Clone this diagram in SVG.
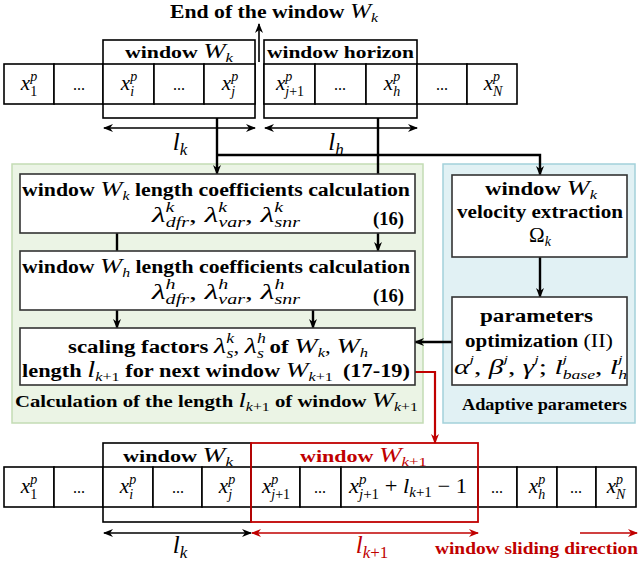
<svg xmlns="http://www.w3.org/2000/svg" width="639" height="565" viewBox="0 0 639 565" font-family="Liberation Serif, serif">
  <style>
    text { font-family: "Liberation Serif", serif; }
    .b { font-weight: bold; fill: #000; }
    .i { font-style: italic; font-weight: normal; }
    .u { font-style: normal; font-weight: normal; }
    .cell { fill: #fff; stroke: #000; stroke-width: 1.6; }
    .frame { fill: none; stroke: #000; stroke-width: 1.6; }
    .rframe { fill: none; stroke: #c00000; stroke-width: 1.8; }
    .box { fill: #fff; stroke: #333; stroke-width: 1.6; }
    .wire { fill: none; stroke: #000; stroke-width: 2.4; }
    .rwire { fill: none; stroke: #c00000; stroke-width: 2.2; }
    .dim { fill: none; stroke: #000; stroke-width: 1.6; }
    .rdim { fill: none; stroke: #c00000; stroke-width: 1.6; }
    .red { fill: #c00000; }
    .mid { text-anchor: middle; }
  </style>
  <defs>
    <marker id="ah" viewBox="0 0 10 8" refX="9" refY="4" markerWidth="10" markerHeight="8" markerUnits="userSpaceOnUse" orient="auto-start-reverse">
      <path d="M0,0 L10,4 L0,8 L3,4 z" fill="#000"/>
    </marker>
    <marker id="ahs" viewBox="0 0 10 8" refX="9" refY="4" markerWidth="12" markerHeight="8" markerUnits="userSpaceOnUse" orient="auto-start-reverse">
      <path d="M0,0 L10,4 L0,8 L3,4 z" fill="#000"/>
    </marker>
    <marker id="rah" viewBox="0 0 10 8" refX="9" refY="4" markerWidth="12" markerHeight="8" markerUnits="userSpaceOnUse" orient="auto-start-reverse">
      <path d="M0,0 L10,4 L0,8 L3,4 z" fill="#c00000"/>
    </marker>
  </defs>

  <!-- panels -->
  <g id="panel-length">
    <rect x="12" y="164" width="411" height="259" fill="#ebf4e5" stroke="#c3dcb4" stroke-width="1.5"/>
    <text class="b" x="15" y="407" font-size="17" textLength="403" lengthAdjust="spacingAndGlyphs">Calculation of the length <tspan class="i" font-size="22">l</tspan><tspan class="i" font-size="13" dy="4">k</tspan><tspan class="u" font-size="13">+1</tspan><tspan dy="-4"> of window </tspan><tspan class="i" font-size="22">W</tspan><tspan class="i" font-size="13" dy="4">k</tspan><tspan class="u" font-size="13">+1</tspan></text>
  </g>
  <g id="panel-adaptive">
    <rect x="443" y="164" width="192" height="259" fill="#e1f1f4" stroke="#a3d1da" stroke-width="1.5"/>
    <text class="b" x="462" y="410" font-size="17" textLength="165" lengthAdjust="spacingAndGlyphs">Adaptive parameters</text>
  </g>

  <!-- connectors -->
  <g id="connectors">
    <line class="dim" x1="259" y1="62" x2="259" y2="24" marker-end="url(#ahs)"/>
    <line class="dim" x1="104" y1="128" x2="255" y2="128" marker-start="url(#ahs)" marker-end="url(#ahs)"/>
    <line class="dim" x1="265" y1="128" x2="417" y2="128" marker-start="url(#ahs)" marker-end="url(#ahs)"/>
    <path class="wire" d="M217,118 V174" marker-end="url(#ah)"/>
    <path class="wire" d="M217,155 H540 V175" marker-end="url(#ah)"/>
    <path class="wire" d="M378,118 V251" marker-end="url(#ah)"/>
    <path class="wire" d="M117,233 V251"/>
    <path class="wire" d="M117,310 V328" marker-end="url(#ah)"/>
    <path class="wire" d="M313,310 V328" marker-end="url(#ah)"/>
    <path class="wire" d="M540,257 V297" marker-end="url(#ah)"/>
    <path class="wire" d="M452,342 H415" marker-end="url(#ah)"/>
    <path class="rwire" d="M415,372 H435 V443" marker-end="url(#rah)"/>
    <line class="dim" x1="104" y1="533" x2="251" y2="533" marker-start="url(#ahs)" marker-end="url(#ahs)"/>
    <line class="rdim" x1="252" y1="533" x2="478" y2="533" marker-start="url(#rah)" marker-end="url(#rah)"/>
    <line class="rdim" x1="580" y1="533" x2="637" y2="533" marker-end="url(#rah)"/>
  </g>

  <!-- top title -->
  <g id="title-end">
    <text class="b" x="170" y="18" font-size="18" textLength="208" lengthAdjust="spacingAndGlyphs">End of the window <tspan class="i" font-size="21">W</tspan><tspan class="i" font-size="13" dy="4">k</tspan></text>
  </g>

  <!-- top sequence: window W_k -->
  <g id="top-window-k">
    <rect class="frame" x="103" y="40" width="152" height="78" fill="#fff"/>
    <text class="b" x="125" y="58" font-size="17" textLength="108" lengthAdjust="spacingAndGlyphs">window <tspan class="i" font-size="21">W</tspan><tspan class="i" font-size="13" dy="4">k</tspan></text>
    <rect class="cell" x="4" y="64" width="50" height="40"/>
    <rect class="cell" x="54" y="64" width="49" height="40"/>
    <rect class="cell" x="103" y="64" width="51" height="40"/>
    <rect class="cell" x="154" y="64" width="50" height="40"/>
    <rect class="cell" x="204" y="64" width="51" height="40"/>
    <text class="i mid" x="29" y="90" font-size="21">x<tspan font-size="14" dy="-9">p</tspan><tspan class="u" font-size="14" dx="-7" dy="15">1</tspan></text>
    <text class="u mid" x="79" y="90" font-size="16">...</text>
    <text class="i mid" x="129" y="90" font-size="21">x<tspan font-size="14" dy="-9">p</tspan><tspan font-size="14" dx="-7" dy="15">i</tspan></text>
    <text class="u mid" x="179" y="90" font-size="16">...</text>
    <text class="i mid" x="230" y="90" font-size="21">x<tspan font-size="14" dy="-9">p</tspan><tspan font-size="14" dx="-7" dy="15">j</tspan></text>
  </g>

  <!-- top sequence: window horizon -->
  <g id="top-window-horizon">
    <rect class="frame" x="264" y="40" width="153" height="78" fill="#fff"/>
    <text class="b" x="267" y="58" font-size="17" textLength="147" lengthAdjust="spacingAndGlyphs">window horizon</text>
    <rect class="cell" x="264" y="64" width="51" height="40"/>
    <rect class="cell" x="315" y="64" width="51" height="40"/>
    <rect class="cell" x="366" y="64" width="51" height="40"/>
    <rect class="cell" x="417" y="64" width="50" height="40"/>
    <rect class="cell" x="467" y="64" width="50" height="40"/>
    <text class="i mid" x="290" y="90" font-size="21">x<tspan font-size="14" dy="-9">p</tspan><tspan font-size="14" dx="-7" dy="15">j</tspan><tspan class="u" font-size="14">+1</tspan></text>
    <text class="u mid" x="340" y="90" font-size="16">...</text>
    <text class="i mid" x="392" y="90" font-size="21">x<tspan font-size="14" dy="-9">p</tspan><tspan font-size="14" dx="-7" dy="15">h</tspan></text>
    <text class="u mid" x="442" y="90" font-size="16">...</text>
    <text class="i mid" x="493" y="90" font-size="21">x<tspan font-size="14" dy="-9">p</tspan><tspan font-size="14" dx="-7" dy="15">N</tspan></text>
  </g>

  <!-- top length labels -->
  <g id="top-lengths">
    <text class="i mid" x="180" y="150" font-size="25">l<tspan font-size="17" dy="5">k</tspan></text>
    <text class="i mid" x="336" y="150" font-size="25">l<tspan font-size="17" dy="5">h</tspan></text>
  </g>

  <!-- window W_k coefficients -->
  <g id="coef-k">
    <rect class="box" x="20" y="174" width="395" height="59"/>
    <text class="b" x="22" y="196" font-size="18" textLength="388" lengthAdjust="spacingAndGlyphs">window <tspan class="i" font-size="22">W</tspan><tspan class="i" font-size="13" dy="4">k</tspan><tspan dy="-4"> length coefficients calculation</tspan></text>
    <text class="i" x="152" y="222" font-size="22" textLength="148" lengthAdjust="spacingAndGlyphs">λ<tspan font-size="14" dy="-10">k</tspan><tspan font-size="14" dx="-6" dy="15">dfr</tspan><tspan class="u" dy="-5">, </tspan>λ<tspan font-size="14" dy="-10">k</tspan><tspan font-size="14" dx="-6" dy="15">var</tspan><tspan class="u" dy="-5">, </tspan>λ<tspan font-size="14" dy="-10">k</tspan><tspan font-size="14" dx="-6" dy="15">snr</tspan></text>
    <text class="b" x="373" y="225" font-size="19" textLength="31" lengthAdjust="spacingAndGlyphs">(16)</text>
  </g>

  <!-- window W_h coefficients -->
  <g id="coef-h">
    <rect class="box" x="20" y="251" width="395" height="59"/>
    <text class="b" x="22" y="273" font-size="18" textLength="388" lengthAdjust="spacingAndGlyphs">window <tspan class="i" font-size="22">W</tspan><tspan class="i" font-size="13" dy="4">h</tspan><tspan dy="-4"> length coefficients calculation</tspan></text>
    <text class="i" x="152" y="299" font-size="22" textLength="148" lengthAdjust="spacingAndGlyphs">λ<tspan font-size="14" dy="-10">h</tspan><tspan font-size="14" dx="-7" dy="15">dfr</tspan><tspan class="u" dy="-5">, </tspan>λ<tspan font-size="14" dy="-10">h</tspan><tspan font-size="14" dx="-7" dy="15">var</tspan><tspan class="u" dy="-5">, </tspan>λ<tspan font-size="14" dy="-10">h</tspan><tspan font-size="14" dx="-7" dy="15">snr</tspan></text>
    <text class="b" x="373" y="302" font-size="19" textLength="31" lengthAdjust="spacingAndGlyphs">(16)</text>
  </g>

  <!-- scaling factors / next length -->
  <g id="scaling">
    <rect class="box" x="20" y="328" width="395" height="57"/>
    <text class="b" x="68" y="353" font-size="18" textLength="300" lengthAdjust="spacingAndGlyphs">scaling factors <tspan class="i" font-size="22">λ</tspan><tspan class="i" font-size="14" dy="-10">k</tspan><tspan class="i" font-size="14" dx="-6" dy="15">s</tspan><tspan class="u" dy="-5">, </tspan><tspan class="i" font-size="22">λ</tspan><tspan class="i" font-size="14" dy="-10">h</tspan><tspan class="i" font-size="14" dx="-7" dy="15">s</tspan><tspan dy="-5"> of </tspan><tspan class="i" font-size="22">W</tspan><tspan class="i" font-size="13" dy="4">k</tspan><tspan class="u" dy="-4">, </tspan><tspan class="i" font-size="22">W</tspan><tspan class="i" font-size="13" dy="4">h</tspan></text>
    <text class="b" x="22" y="377" font-size="18" textLength="388" lengthAdjust="spacingAndGlyphs">length <tspan class="i" font-size="23">l</tspan><tspan class="i" font-size="13" dy="4">k</tspan><tspan class="u" font-size="13">+1</tspan><tspan dy="-4"> for next window </tspan><tspan class="i" font-size="22">W</tspan><tspan class="i" font-size="13" dy="4">k</tspan><tspan class="u" font-size="13">+1</tspan><tspan dy="-4" dx="8">(17-19)</tspan></text>
  </g>

  <!-- velocity extraction -->
  <g id="velocity">
    <rect class="box" x="452" y="175" width="175" height="82"/>
    <text class="b" x="485" y="195" font-size="18" textLength="112" lengthAdjust="spacingAndGlyphs">window <tspan class="i" font-size="22">W</tspan><tspan class="i" font-size="13" dy="4">k</tspan></text>
    <text class="b" x="457" y="218" font-size="18" textLength="166" lengthAdjust="spacingAndGlyphs">velocity extraction</text>
    <text class="u mid" x="540" y="242" font-size="21">Ω<tspan class="i" font-size="14" dy="4">k</tspan></text>
  </g>

  <!-- parameters optimization -->
  <g id="optimization">
    <rect class="box" x="452" y="297" width="175" height="88"/>
    <text class="b" x="480" y="322" font-size="18" textLength="113" lengthAdjust="spacingAndGlyphs">parameters</text>
    <text class="b" x="465" y="347" font-size="18" textLength="148" lengthAdjust="spacingAndGlyphs">optimization <tspan class="u" font-size="19">(II)</tspan></text>
    <text class="i" x="454" y="374" font-size="20" textLength="173" lengthAdjust="spacingAndGlyphs">α<tspan font-size="11" dy="-11">j</tspan><tspan class="u" dy="11">, </tspan>β<tspan font-size="11" dy="-11">j</tspan><tspan class="u" dy="11">, </tspan>γ<tspan font-size="11" dy="-11">j</tspan><tspan class="u" dy="11">;  </tspan>l<tspan font-size="11" dy="-11">j</tspan><tspan font-size="12" dx="-3" dy="16">base</tspan><tspan class="u" dy="-5">, </tspan>l<tspan font-size="11" dy="-11">j</tspan><tspan font-size="12" dx="-3" dy="16">h</tspan></text>
  </g>

  <!-- bottom sequence: window W_k -->
  <g id="bottom-window-k">
    <rect class="frame" x="103" y="443" width="148" height="79" fill="#fff"/>
    <text class="b" x="123" y="462" font-size="17" textLength="110" lengthAdjust="spacingAndGlyphs">window <tspan class="i" font-size="21">W</tspan><tspan class="i" font-size="13" dy="4">k</tspan></text>
    <rect class="cell" x="4" y="467" width="50" height="40"/>
    <rect class="cell" x="54" y="467" width="49" height="40"/>
    <rect class="cell" x="103" y="467" width="50" height="40"/>
    <rect class="cell" x="153" y="467" width="49" height="40"/>
    <rect class="cell" x="202" y="467" width="49" height="40"/>
    <text class="i mid" x="29" y="493" font-size="21">x<tspan font-size="14" dy="-9">p</tspan><tspan class="u" font-size="14" dx="-7" dy="15">1</tspan></text>
    <text class="u mid" x="79" y="493" font-size="16">...</text>
    <text class="i mid" x="128" y="493" font-size="21">x<tspan font-size="14" dy="-9">p</tspan><tspan font-size="14" dx="-7" dy="15">i</tspan></text>
    <text class="u mid" x="178" y="493" font-size="16">...</text>
    <text class="i mid" x="227" y="493" font-size="21">x<tspan font-size="14" dy="-9">p</tspan><tspan font-size="14" dx="-7" dy="15">j</tspan></text>
  </g>

  <!-- bottom sequence: rest of the cells -->
  <g id="bottom-cells">
    <rect class="cell" x="251" y="467" width="49" height="40"/>
    <rect class="cell" x="300" y="467" width="41" height="40"/>
    <rect class="cell" x="341" y="467" width="137" height="40"/>
    <rect class="cell" x="478" y="467" width="39" height="40"/>
    <rect class="cell" x="517" y="467" width="40" height="40"/>
    <rect class="cell" x="557" y="467" width="39" height="40"/>
    <rect class="cell" x="596" y="467" width="40" height="40"/>
    <text class="i mid" x="276" y="493" font-size="21">x<tspan font-size="14" dy="-9">p</tspan><tspan font-size="14" dx="-7" dy="15">j</tspan><tspan class="u" font-size="14">+1</tspan></text>
    <text class="u mid" x="320" y="493" font-size="16">...</text>
    <text class="i" x="349" y="493" font-size="21" textLength="118" lengthAdjust="spacingAndGlyphs">x<tspan font-size="14" dy="-9">p</tspan><tspan font-size="14" dx="-7" dy="15">j</tspan><tspan class="u" font-size="14">+1</tspan><tspan class="u" dy="-6"> + </tspan>l<tspan font-size="14" dy="4">k</tspan><tspan class="u" font-size="14">+1</tspan><tspan class="u" dy="-4"> − 1</tspan></text>
    <text class="u mid" x="497" y="493" font-size="16">...</text>
    <text class="i mid" x="537" y="493" font-size="21">x<tspan font-size="14" dy="-9">p</tspan><tspan font-size="14" dx="-7" dy="15">h</tspan></text>
    <text class="u mid" x="576" y="493" font-size="16">...</text>
    <text class="i mid" x="616" y="493" font-size="21">x<tspan font-size="14" dy="-9">p</tspan><tspan font-size="14" dx="-7" dy="15">N</tspan></text>
  </g>

  <!-- bottom sequence: next window W_k+1 -->
  <g id="bottom-window-next">
    <rect class="rframe" x="251" y="443" width="227" height="79"/>
    <text class="b red" x="300" y="462" font-size="17" textLength="127" lengthAdjust="spacingAndGlyphs">window <tspan class="i" font-size="21">W</tspan><tspan class="i" font-size="13" dy="4">k</tspan><tspan class="u" font-size="13">+1</tspan></text>
  </g>

  <!-- bottom length labels -->
  <g id="bottom-lengths">
    <text class="i mid" x="180" y="553" font-size="25">l<tspan font-size="17" dy="5">k</tspan></text>
    <text class="i red mid" x="372" y="553" font-size="25">l<tspan font-size="17" dy="5">k</tspan><tspan class="u" font-size="17">+1</tspan></text>
    <text class="b red" x="435" y="554" font-size="17" textLength="203" lengthAdjust="spacingAndGlyphs">window sliding direction</text>
  </g>
</svg>
